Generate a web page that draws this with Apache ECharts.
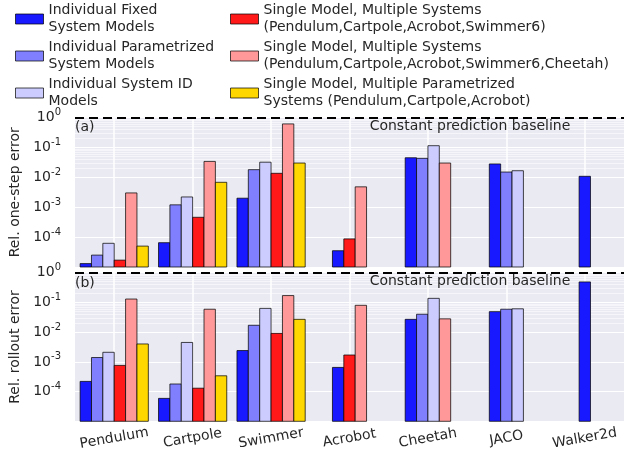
<!DOCTYPE html>
<html>
<head>
<meta charset="utf-8">
<script src="https://cdn.jsdelivr.net/npm/echarts@6/dist/echarts.min.js"></script>
<style>html,body{margin:0;padding:0;background:#fff}#c{width:624px;height:453px}</style>
</head>
<body>
<div id="c"></div>
<script>
const categories = ['Pendulum', 'Cartpole', 'Swimmer', 'Acrobot', 'Cheetah', 'JACO', 'Walker2d'];
const seriesNames = [
  'Individual Fixed\nSystem Models',
  'Individual Parametrized\nSystem Models',
  'Individual System ID\nModels',
  'Single Model, Multiple Systems\n(Pendulum,Cartpole,Acrobot,Swimmer6)',
  'Single Model, Multiple Systems\n(Pendulum,Cartpole,Acrobot,Swimmer6,Cheetah)',
  'Single Model, Multiple Parametrized\nSystems (Pendulum,Cartpole,Acrobot)'
];
const seriesColors = ['#1919ff', '#8080ff', '#ccccff', '#ff1919', '#ff9999', '#ffd700'];

// (a) relative one-step error
const stepFixed        = [1.3e-5, 6.5e-5, 2.0e-3, 3.5e-5, 0.045, 0.028, 0.0108];
const stepParam        = [2.5e-5, 1.2e-3, 0.018, null, 0.043, 0.015, null];
const stepSysId        = [6.2e-5, 2.2e-3, 0.032, null, 0.114, 0.0166, null];
const stepMulti        = [1.7e-5, 4.6e-4, 0.0136, 8.7e-5, null, null, null];
const stepMultiCheetah = [3.0e-3, 0.034, 0.61, 4.8e-3, 0.030, null, null];
const stepMultiParam   = [5.0e-5, 6.8e-3, 0.030, null, null, null, null];

// (b) relative rollout error
const rollFixed        = [2.2e-4, 5.9e-5, 2.4e-3, 6.5e-4, 0.027, 0.049, 0.49];
const rollParam        = [1.4e-3, 1.8e-4, 0.017, null, 0.040, 0.059, null];
const rollSysId        = [2.1e-3, 4.5e-3, 0.063, null, 0.137, 0.061, null];
const rollMulti        = [7.6e-4, 1.3e-4, 9.1e-3, 1.7e-3, null, null, null];
const rollMultiCheetah = [0.13, 0.059, 0.17, 0.080, 0.028, null, null];
const rollMultiParam   = [4.0e-3, 3.4e-4, 0.027, null, null, null, null];

const baselineValue = 1;
const yMin = 1e-5, yMax = 1;

const panels = [
  [stepFixed, stepParam, stepSysId, stepMulti, stepMultiCheetah, stepMultiParam],
  [rollFixed, rollParam, rollSysId, rollMulti, rollMultiCheetah, rollMultiParam]
];

function buildData(panel, s) {
  const out = [];
  categories.forEach((c, ci) => {
    const present = [];
    panel.forEach((arr, k) => { if (arr[ci] != null) present.push(k); });
    const slot = present.indexOf(s);
    if (slot >= 0) out.push([ci, panel[s][ci], slot, present.length]);
  });
  return out;
}

function renderBar(params, api) {
  const ci = api.value(0), v = api.value(1), slot = api.value(2), n = api.value(3);
  const top = api.coord([ci, v]);
  const base = api.coord([ci, yMin]);
  const band = api.size([1, 0], [ci, v])[0];
  const bw = band * 0.145;
  const x = top[0] + (slot - (n - 1) / 2) * bw - bw / 2;
  return {
    type: 'rect',
    shape: { x: x, y: top[1], width: bw, height: base[1] - top[1] },
    style: { fill: api.visual('color'), stroke: 'rgba(0,0,0,0.72)', lineWidth: 1 }
  };
}

const minorLines = [];
for (let e = -5; e <= -1; e++) for (let m = 2; m <= 9; m++) minorLines.push({ yAxis: m * Math.pow(10, e) });

const textColor = '#262626';

function yAxisFor(gi, name) {
  return {
    type: 'log', logBase: 10, gridIndex: gi, min: yMin, max: yMax,
    name: name, nameLocation: 'middle', nameGap: 53,
    nameTextStyle: { fontSize: 14, color: textColor, fontFamily: 'DejaVu Sans' },
    axisLine: { show: false }, axisTick: { show: false },
    splitLine: { show: true, lineStyle: { color: '#ffffff', width: 1.2 } },
    axisLabel: {
      showMinLabel: false, margin: 14, color: textColor, fontFamily: 'DejaVu Sans',
      formatter: v => '{b|10}{s|' + Math.round(Math.log10(v)) + '}',
      rich: {
        b: { fontSize: 14, lineHeight: 20, color: textColor, fontFamily: 'DejaVu Sans' },
        s: { fontSize: 10, lineHeight: 10, verticalAlign: 'top', color: textColor, fontFamily: 'DejaVu Sans' }
      }
    }
  };
}

function xAxisFor(gi, showLabels) {
  return {
    type: 'category', gridIndex: gi, data: categories,
    axisLine: { show: false }, axisTick: { show: false, alignWithLabel: true },
    splitLine: { show: true, alignWithLabel: true, lineStyle: { color: '#ffffff', width: 1.5 } },
    axisLabel: showLabels ? {
      show: true, rotate: 10, align: 'center', verticalAlign: 'middle', margin: 17,
      fontSize: 14, color: textColor, fontFamily: 'DejaVu Sans', interval: 0
    } : { show: false }
  };
}

const series = [];
panels.forEach((panel, gi) => {
  panel.forEach((arr, s) => {
    const ser = {
      type: 'custom', name: seriesNames[s], xAxisIndex: gi, yAxisIndex: gi,
      renderItem: renderBar, encode: { x: 0, y: 1 }, z: 3,
      itemStyle: { color: seriesColors[s] },
      data: buildData(panel, s)
    };
    if (s === 0) {
      ser.markLine = {
        silent: true, symbol: 'none', z: 1, animation: false,
        label: { show: false },
        lineStyle: { color: '#ffffff', width: 0.7, type: 'solid', opacity: 0.85 },
        data: minorLines
      };
    }
    if (s === 1) {
      ser.markLine = {
        silent: true, symbol: 'none', z: 10, animation: false,
        label: { show: false },
        lineStyle: { color: '#000000', width: 1.8, type: [9, 5] },
        data: [{ yAxis: baselineValue }]
      };
    }
    series.push(ser);
  });
});

const legendCommon = {
  orient: 'vertical', top: 2, padding: 0, itemWidth: 28, itemHeight: 10, itemGap: 3,
  icon: 'rect', selectedMode: false,
  itemStyle: { borderColor: 'rgba(0,0,0,0.7)', borderWidth: 1 },
  textStyle: { fontSize: 14, lineHeight: 17, color: textColor, fontFamily: 'DejaVu Sans' }
};

const option = {
  animation: false,
  backgroundColor: '#ffffff',
  grid: [
    { left: 69, width: 556, top: 117.5, height: 149.5, show: true, backgroundColor: '#EAEAF2', borderWidth: 0 },
    { left: 69, width: 556, top: 272.7, height: 148.6, show: true, backgroundColor: '#EAEAF2', borderWidth: 0 }
  ],
  legend: [
    Object.assign({ left: 15, data: seriesNames.slice(0, 3) }, legendCommon),
    Object.assign({ left: 230, data: seriesNames.slice(3, 6) }, legendCommon)
  ],
  xAxis: [xAxisFor(0, false), xAxisFor(1, true)],
  yAxis: [yAxisFor(0, 'Rel. one-step error'), yAxisFor(1, 'Rel. rollout error')],
  series: series,
  graphic: [
    { type: 'text', left: 75, top: 120, z: 20, style: { text: '(a)', fontSize: 14, fill: textColor, fontFamily: 'DejaVu Sans' } },
    { type: 'text', left: 75, top: 276, z: 20, style: { text: '(b)', fontSize: 14, fill: textColor, fontFamily: 'DejaVu Sans' } },
    { type: 'text', x: 470, y: 126, z: 20, style: { text: 'Constant prediction baseline', fontSize: 14, fill: textColor, fontFamily: 'DejaVu Sans', align: 'center', verticalAlign: 'middle' } },
    { type: 'text', x: 470, y: 281, z: 20, style: { text: 'Constant prediction baseline', fontSize: 14, fill: textColor, fontFamily: 'DejaVu Sans', align: 'center', verticalAlign: 'middle' } }
  ]
};

const chart = echarts.init(document.getElementById('c'), null, { renderer: 'canvas' });
chart.setOption(option);
</script>
</body>
</html>
